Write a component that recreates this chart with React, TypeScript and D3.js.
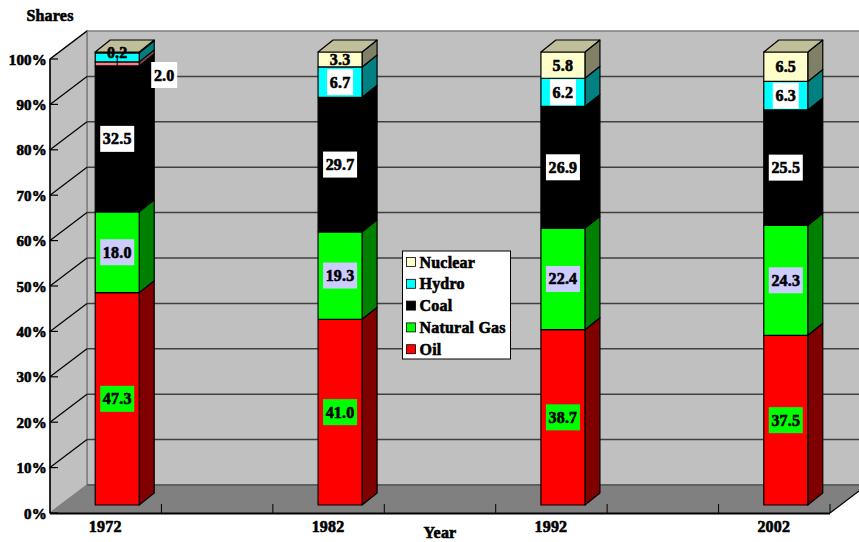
import React from "react";
import * as d3 from "d3";

const categories = ["1972", "", "1982", "", "1992", "", "2002"];
const seriesNames = ["Oil", "Natural Gas", "Coal", "Other", "Hydro", "Nuclear"];
const oil = [47.3, 0, 41.0, 0, 38.7, 0, 37.5];
const naturalGas = [18.0, 0, 19.3, 0, 22.4, 0, 24.3];
const coal = [32.5, 0, 29.7, 0, 26.9, 0, 25.5];
const other = [0.9, 0, 0, 0, 0, 0, 0];
const hydro = [2.0, 0, 6.7, 0, 6.2, 0, 6.3];
const nuclear = [0.2, 0, 3.3, 0, 5.8, 0, 6.5];
const percentTicks = [0, 10, 20, 30, 40, 50, 60, 70, 80, 90, 100];
const legendNames = ["Nuclear", "Hydro", "Coal", "Natural Gas", "Oil"];

const faceColors: Record<string, string> = {
  Oil: "#ff0000",
  "Natural Gas": "#00ff00",
  Coal: "#000000",
  Other: "#ff8080",
  Hydro: "#00ffff",
  Nuclear: "#ffffcc",
};
// Nuclear labels sit directly on their own cream face, so they carry no box
const labelBackgrounds: Record<string, string | undefined> = {
  Oil: "#00ff00",
  "Natural Gas": "#ccccff",
  Coal: "#ffffff",
  Hydro: "#ffffff",
};

const WIDTH = 859;
const HEIGHT = 542;
const FONT = "'Liberation Serif', serif";
const textStyle = { fontFamily: FONT, fontWeight: 700, stroke: "#000", strokeWidth: 0.6, letterSpacing: 0.2 } as const;

// Oblique projection of the chart box
const frontLeft = 50;
const frontRight = 830;
const frontBottom = 513;
const frontTop = 59;
const depthX = 37;
const depthY = 28;
// Bars stand part way into the box and have their own short depth
const barInsetX = 11.5;
const barInsetY = 8;
const barDepthX = 15;
const barDepthY = 12;
const barWidth = 44;

const x = d3.scaleBand<number>().domain(d3.range(categories.length)).range([frontLeft, frontRight]);
const y = d3.scaleLinear().domain([0, 100]).range([frontBottom, frontTop]);
const barY = d3.scaleLinear().domain([0, 1]).range([frontBottom - barInsetY, frontTop - 7]);

const table = categories.map((_, i) => ({
  index: i,
  Oil: oil[i],
  "Natural Gas": naturalGas[i],
  Coal: coal[i],
  Other: other[i],
  Hydro: hydro[i],
  Nuclear: nuclear[i],
}));
const stacked = d3.stack<any>().keys(seriesNames).offset(d3.stackOffsetExpand)(
  table.filter((row) => categories[row.index] !== "")
);

const shade = (hex: string, k: number) => {
  const c = d3.rgb(hex);
  return d3.rgb(c.r * k, c.g * k, c.b * k).formatHex();
};
const pts = (p: [number, number][]) => p.map((q) => q.join(",")).join(" ");

function BarLabel({ cx, cy, text, bg }: { cx: number; cy: number; text: string; bg?: string }) {
  const w = text.length === 3 ? 26 : 34;
  return (
    <g>
      {bg && <rect x={cx - w / 2} y={cy - 13} width={w} height={26} fill={bg} />}
      <text x={cx} y={cy + 5.5} textAnchor="middle" fontSize={16} fill="#000" {...textStyle}>
        {text}
      </text>
    </g>
  );
}

export default function App() {
  const bars = stacked.flatMap((layer) =>
    layer.map((d: any) => {
      const i = d.data.index as number;
      const left = (x(i) as number) + x.bandwidth() / 2 - barWidth / 2 + barInsetX;
      return { key: layer.key, i, left, y0: barY(d[0]), y1: barY(d[1]), value: d.data[layer.key] as number };
    })
  );
  const top = bars.filter((b) => b.key === "Nuclear");
  const firstCentre = (x(0) as number) + x.bandwidth() / 2 + barInsetX;

  return (
    <svg
      width={WIDTH}
      height={HEIGHT}
      style={{ position: "absolute", left: 0, top: 0, background: "#fff" }}
    >
      {/* back wall, side wall, floor */}
      <polygon
        points={pts([[frontLeft + depthX, y(100) - depthY], [WIDTH + 10, y(100) - depthY], [WIDTH + 10, y(0) - depthY], [frontLeft + depthX, y(0) - depthY]])}
        fill="#c0c0c0"
        stroke="#808080"
        strokeWidth={1.5}
      />
      <polygon
        points={pts([[frontLeft, y(100)], [frontLeft + depthX, y(100) - depthY], [frontLeft + depthX, y(0) - depthY], [frontLeft, y(0)]])}
        fill="#c0c0c0"
        stroke="#808080"
        strokeWidth={1.5}
      />
      <polygon
        points={pts([[frontLeft, y(0)], [frontRight, y(0)], [frontRight + depthX, y(0) - depthY], [frontLeft + depthX, y(0) - depthY]])}
        fill="#808080"
      />
      <line x1={frontLeft + depthX} x2={WIDTH} y1={y(0) - depthY} y2={y(0) - depthY} stroke="#606060" strokeWidth={2} />

      {/* gridlines */}
      {percentTicks.filter((t) => t > 0).map((t) => (
        <g key={t}>
          {t < 100 && (
            <line x1={frontLeft + depthX} x2={WIDTH} y1={y(t) - depthY} y2={y(t) - depthY} stroke="#404040" strokeWidth={1.5} />
          )}
          <line x1={frontLeft} x2={frontLeft + depthX} y1={y(t)} y2={y(t) - depthY} stroke="#000" strokeWidth={1.2} />
        </g>
      ))}

      {/* axes */}
      <line x1={frontLeft} x2={frontLeft} y1={y(100)} y2={y(0)} stroke="#000" strokeWidth={1.5} />
      <line x1={frontLeft} x2={frontRight} y1={y(0) + 0.5} y2={y(0) + 0.5} stroke="#000" strokeWidth={2} />
      <line x1={frontRight} x2={frontRight + depthX} y1={y(0)} y2={y(0) - depthY} stroke="#000" strokeWidth={1.2} />
      {percentTicks.map((t) => (
        <g key={t}>
          <line x1={frontLeft} x2={frontLeft + 8} y1={y(t)} y2={y(t)} stroke="#000" strokeWidth={1.2} />
          <text x={47} y={y(t) + 5.5} textAnchor="end" fontSize={15} {...textStyle}>
            {t}%
          </text>
        </g>
      ))}
      {categories.map((_, i) => {
        const tx = (x(i) as number) + x.bandwidth();
        return <line key={i} x1={tx} x2={tx} y1={y(0) - 9} y2={y(0)} stroke="#000" strokeWidth={1} />;
      })}
      {categories.map((c, i) =>
        c ? (
          <text key={i} x={(x(i) as number) + x.bandwidth() / 2 - 0.5} y={532} textAnchor="middle" fontSize={16} {...textStyle}>
            {c}
          </text>
        ) : null
      )}
      <text x={440} y={538} textAnchor="middle" fontSize={16} {...textStyle}>Year</text>
      <text x={50} y={21} textAnchor="middle" fontSize={16} {...textStyle}>Shares</text>

      {/* bars */}
      {bars.map((b) => {
        if (b.y0 === b.y1) return null;
        const color = faceColors[b.key];
        const right = b.left + barWidth;
        return (
          <g key={b.key + b.i} stroke="#000" strokeWidth={1.2} strokeLinejoin="round">
            <polygon
              points={pts([[right, b.y0], [right + barDepthX, b.y0 - barDepthY], [right + barDepthX, b.y1 - barDepthY], [right, b.y1]])}
              fill={shade(color, 0.5)}
            />
            <rect x={b.left} y={b.y1} width={barWidth} height={b.y0 - b.y1} fill={color} />
          </g>
        );
      })}
      {top.map((b) => (
        <polygon
          key={b.i}
          points={pts([[b.left, b.y1], [b.left + barDepthX, b.y1 - barDepthY], [b.left + barWidth + barDepthX, b.y1 - barDepthY], [b.left + barWidth, b.y1]])}
          fill={shade(faceColors.Nuclear, 0.75)}
          stroke="#000"
          strokeWidth={1.2}
          strokeLinejoin="round"
        />
      ))}

      {/* value labels */}
      {bars.map((b) => {
        if (b.key === "Other" || b.value === 0) return null;
        const cx = b.left + barWidth / 2;
        const text = b.value.toFixed(1);
        if (b.i === 0 && b.key === "Hydro") return <BarLabel key={b.key + b.i} cx={cx + 47} cy={75} text={text} bg="#fff" />;
        if (b.i === 0 && b.key === "Nuclear") return <BarLabel key={b.key + b.i} cx={cx} cy={52} text={text} />;
        return <BarLabel key={b.key + b.i} cx={cx} cy={(b.y0 + b.y1) / 2} text={text} bg={labelBackgrounds[b.key]} />;
      })}
      <line x1={firstCentre} x2={firstCentre} y1={57} y2={66} stroke="#000" strokeWidth={1} />

      {/* legend */}
      <g>
        <rect x={402.5} y={251} width={108} height={108} fill="#fff" stroke="#000" strokeWidth={1} />
        {legendNames.map((name, i) => {
          const ly = 262 + i * 21.8;
          return (
            <g key={name}>
              <rect x={406.5} y={ly - 4.5} width={9} height={9} fill={faceColors[name]} stroke="#000" strokeWidth={0.8} />
              <text x={419.5} y={ly + 5.5} fontSize={16} {...textStyle}>{name}</text>
            </g>
          );
        })}
      </g>
    </svg>
  );
}
